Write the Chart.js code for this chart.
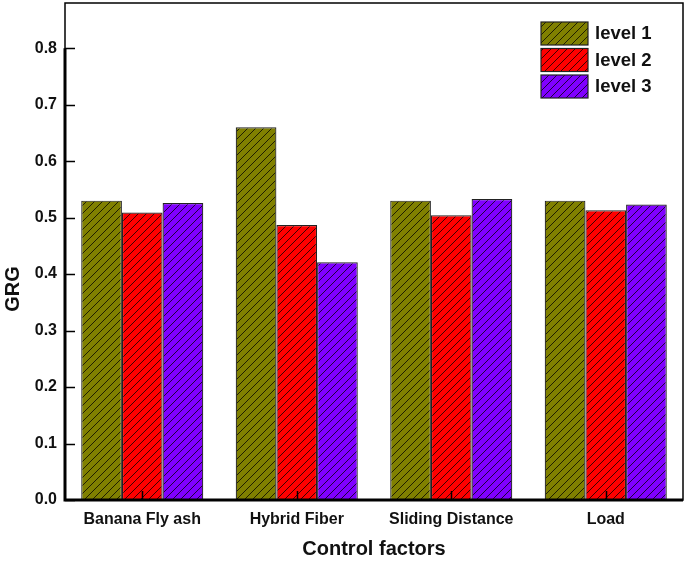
<!DOCTYPE html>
<html>
<head>
<meta charset="utf-8">
<script src="https://cdn.jsdelivr.net/npm/chart.js@4/dist/chart.umd.min.js"></script>
<style>
  html, body { margin: 0; padding: 0; background: #fff; }
  #wrap { width: 685px; height: 561px; }
</style>
</head>
<body>
<div id="wrap"><canvas id="grg-chart"></canvas></div>
<script>
    "use strict";

    // Data
    var factors = ["Banana Fly ash", "Hybrid Fiber", "Sliding Distance", "Load"];
    var level1 = [0.530, 0.660, 0.530, 0.530];
    var level2 = [0.509, 0.487, 0.504, 0.513];
    var level3 = [0.526, 0.421, 0.533, 0.523];
    var levelNames = ["level 1", "level 2", "level 3"];
    var yTicks = [0, 0.1, 0.2, 0.3, 0.4, 0.5, 0.6, 0.7, 0.8];

    var FONT = "'Liberation Sans', Arial, sans-serif";

    // hatched fill "/"
    function hatch(color) {
        var n = 8;
        var c = document.createElement("canvas");
        c.width = n; c.height = n;
        var g = c.getContext("2d");
        g.fillStyle = color;
        g.fillRect(0, 0, n, n);
        g.strokeStyle = "rgba(0,0,0,0.85)";
        g.lineWidth = 0.9;
        g.beginPath();
        g.moveTo(0, n); g.lineTo(n, 0);
        g.moveTo(-n, n); g.lineTo(n, -n);
        g.moveTo(0, 2 * n); g.lineTo(2 * n, 0);
        g.stroke();
        return g.createPattern(c, "repeat");
    }
    var fills = [hatch("#808000"), hatch("#ff0000"), hatch("#8000ff")];

    // Frame, ticks, legend and y title
    var decor = {
        id: "decor",
        afterDraw: function (chart) {
            var ctx = chart.ctx, a = chart.chartArea;
            var x = chart.scales.x, y = chart.scales.y;
            ctx.save();
            ctx.strokeStyle = "#000";
            // thin frame
            ctx.lineWidth = 1.5;
            ctx.strokeRect(a.left, a.top, a.right - a.left, a.bottom - a.top);
            // thick axes
            ctx.lineWidth = 3;
            ctx.beginPath();
            ctx.moveTo(a.left, y.getPixelForValue(0.8));
            ctx.lineTo(a.left, a.bottom);
            ctx.lineTo(a.right, a.bottom);
            ctx.stroke();
            // inward ticks
            ctx.lineWidth = 1.5;
            ctx.beginPath();
            yTicks.forEach(function (v) {
                var py = Math.round(y.getPixelForValue(v)) + 0.5;
                ctx.moveTo(a.left, py);
                ctx.lineTo(a.left + 10, py);
            });
            factors.forEach(function (f, i) {
                var px = Math.round(x.getPixelForValue(i)) + 0.5;
                ctx.moveTo(px, a.bottom);
                ctx.lineTo(px, a.bottom - 9);
            });
            ctx.stroke();
            // legend
            ctx.font = "bold 18.5px " + FONT;
            ctx.textBaseline = "middle";
            ctx.textAlign = "left";
            levelNames.forEach(function (n, i) {
                var top = 22 + i * 26.5;
                ctx.fillStyle = fills[i];
                ctx.fillRect(541, top, 47, 23);
                ctx.lineWidth = 1.2;
                ctx.strokeStyle = "#222";
                ctx.strokeRect(541, top, 47, 23);
                ctx.fillStyle = "#111";
                ctx.fillText(n, 595, top + 12);
            });
            // y title
            ctx.translate(13, 289);
            ctx.rotate(-Math.PI / 2);
            ctx.textAlign = "center";
            ctx.font = "bold 20px " + FONT;
            ctx.fillText("GRG", 0, 0);
            ctx.restore();
        }
    };

    var ctx1 = document.getElementById("grg-chart").getContext("2d");
    var myChart1 = new Chart(ctx1, {
        type: "bar",
        data: {
            labels: factors,
            datasets: [level1, level2, level3].map(function (d, i) {
                return {
                    label: levelNames[i],
                    data: d,
                    backgroundColor: fills[i],
                    borderColor: "#222",
                    borderWidth: 1.2,
                    categoryPercentage: 0.79,
                    barPercentage: 1.0
                };
            })
        },
        options: {
            responsive: true,
            maintainAspectRatio: false,
            animation: false,
            layout: { padding: { top: 3, right: 2, left: 0, bottom: 0 } },
            plugins: {
                legend: { display: false },
                tooltip: { enabled: false }
            },
            scales: {
                x: {
                    grid: { display: false, drawTicks: false },
                    border: { display: false },
                    ticks: {
                        color: "#111",
                        padding: 10,
                        maxRotation: 0,
                        autoSkip: false,
                        font: { family: FONT, size: 16, weight: "bold" }
                    },
                    title: {
                        display: true,
                        text: "Control factors",
                        color: "#111",
                        padding: { top: 10, bottom: 0 },
                        font: { family: FONT, size: 20, weight: "bold" }
                    },
                    afterFit: function (s) {
                        s.height = 61;
                        s.paddingLeft = 0; s.paddingRight = 0;
                    }
                },
                y: {
                    min: 0,
                    max: 0.88,
                    grid: { display: false, drawTicks: false },
                    border: { display: false },
                    afterBuildTicks: function (s) {
                        s.ticks = yTicks.map(function (v) { return { value: v }; });
                    },
                    ticks: {
                        color: "#111",
                        padding: 8,
                        font: { family: FONT, size: 16, weight: "bold" },
                        callback: function (v) { return Number(v).toFixed(1); }
                    },
                    afterFit: function (s) {
                        s.width = 65;
                        s.paddingTop = 0; s.paddingBottom = 0;
                    }
                }
            }
        },
        plugins: [decor]
    });
</script>
</body>
</html>
